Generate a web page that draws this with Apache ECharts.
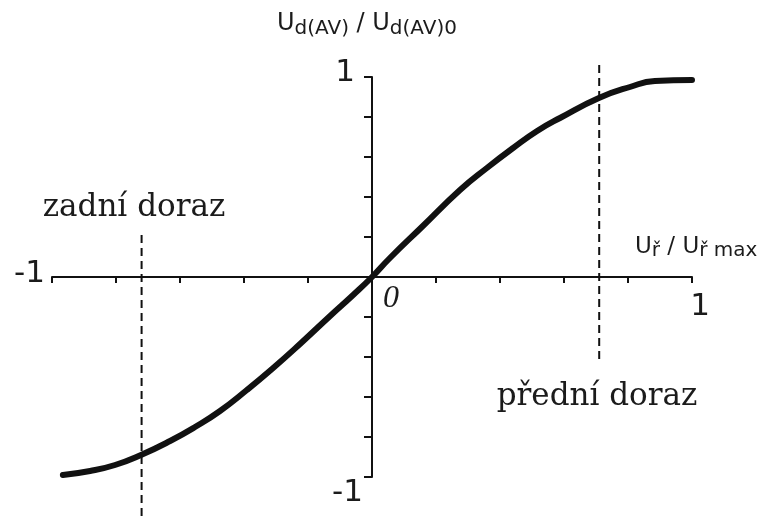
<!DOCTYPE html>
<html>
<head>
<meta charset="utf-8">
<script src="https://cdn.jsdelivr.net/npm/echarts@6/dist/echarts.min.js"></script>
<style>
  html, body { margin: 0; padding: 0; background: #ffffff; }
  #chart { width: 766px; height: 519px; }
</style>
</head>
<body>
<div id="chart"></div>
<script>
// Control characteristic of the converter: Ud(AV)/Ud(AV)0 against Uř/Uř max
const controlRatio = [-0.966, -0.881, -0.803, -0.722, -0.631, -0.553, -0.475, -0.391, -0.3125, -0.225,
  -0.131, -0.059, 0, 0.056, 0.159, 0.275, 0.359, 0.441, 0.516, 0.5875, 0.709, 0.806, 0.884, 1.0];
const outputRatio = [-0.99, -0.97, -0.94, -0.89, -0.82, -0.75, -0.67, -0.565, -0.46, -0.335,
  -0.195, -0.09, 0, 0.095, 0.255, 0.435, 0.545, 0.645, 0.73, 0.795, 0.895, 0.95, 0.98, 0.985];

// End stops on the control axis and the vertical extent of their dashed markers
const rearStopX = -0.72;
const rearStopSpan = [0.21, -1.21];
const frontStopX = 0.71;
const frontStopSpan = [1.06, -0.43];

// Axis end labels
const xMinLabel = '-1';
const xMaxLabel = '1';
const yMinLabel = '-1';
const yMaxLabel = '1';
const originLabel = '0';

const rearStopText = 'zadní doraz';
const frontStopText = 'přední doraz';

const ink = '#111111';
const textInk = '#1b1b1b';

const chart = echarts.init(document.getElementById('chart'), null, { renderer: 'canvas' });

const curve = controlRatio.map((x, i) => [x, outputRatio[i]]);
const stopLine = (x, span) => span.map(y => [x, y]);

chart.setOption({
  animation: false,
  backgroundColor: '#ffffff',
  grid: { left: 52, width: 640, top: 77, height: 400, containLabel: false },
  xAxis: {
    type: 'value', min: -1, max: 1, interval: 0.2,
    axisLine: { onZero: true, lineStyle: { color: ink, width: 2 } },
    axisTick: { show: true, length: 6, lineStyle: { color: ink, width: 2 } },
    axisLabel: { show: false },
    splitLine: { show: false }
  },
  yAxis: {
    type: 'value', min: -1, max: 1, interval: 0.2,
    axisLine: { onZero: true, lineStyle: { color: ink, width: 2 } },
    axisTick: { show: true, length: 8, lineStyle: { color: ink, width: 2 } },
    axisLabel: { show: false },
    splitLine: { show: false }
  },
  series: [
    {
      type: 'line', data: curve, smooth: 0.5, symbol: 'none', clip: false,
      lineStyle: { color: ink, width: 6, cap: 'round', join: 'round' }, z: 5
    },
    {
      type: 'line', data: stopLine(rearStopX, rearStopSpan), symbol: 'none', clip: false,
      lineStyle: { color: ink, width: 2, type: [8, 5] }
    },
    {
      type: 'line', data: stopLine(frontStopX, frontStopSpan), symbol: 'none', clip: false,
      lineStyle: { color: ink, width: 2, type: [8, 5] }
    }
  ]
});

const px = (x, y) => chart.convertToPixel({ gridIndex: 0 }, [x, y]);
const pLeft = px(-1, 0), pRight = px(1, 0), pTop = px(0, 1), pBottom = px(0, -1), pO = px(0, 0);

const numFont = '31px "DejaVu Sans"';
const numText = (text, x, y, align) => ({
  type: 'text', z: 10,
  style: { text, x, y, align, verticalAlign: 'middle', font: numFont, fill: textInk }
});

chart.setOption({
  graphic: [
    numText(xMinLabel, pLeft[0] - 7, pLeft[1] - 3, 'right'),
    numText(xMaxLabel, pRight[0] + 8, pRight[1] + 30, 'center'),
    numText(yMaxLabel, pTop[0] - 27, pTop[1] - 4, 'center'),
    numText(yMinLabel, pBottom[0] - 9, pBottom[1] + 16, 'right'),
    {
      type: 'text', z: 10,
      style: { text: originLabel, x: pO[0] + 19, y: pO[1] + 22, align: 'center', verticalAlign: 'middle',
        font: 'italic 32px "Liberation Serif"', fill: textInk }
    },
    {
      type: 'text', z: 10,
      style: { text: rearStopText, x: 134, y: 208, align: 'center', verticalAlign: 'middle',
        font: '31px "DejaVu Serif"', fill: textInk }
    },
    {
      type: 'text', z: 10,
      style: { text: frontStopText, x: 597, y: 397, align: 'center', verticalAlign: 'middle',
        font: '31px "DejaVu Serif"', fill: textInk }
    },
    {
      type: 'text', z: 10,
      style: {
        text: '{u|U}{s|d(AV)}{u| / U}{s|d(AV)0}',
        x: 277, y: 9, align: 'left', verticalAlign: 'top',
        rich: {
          u: { font: '24px "DejaVu Sans"', fill: textInk, lineHeight: 30, verticalAlign: 'middle' },
          s: { font: '20px "DejaVu Sans"', fill: textInk, lineHeight: 20, verticalAlign: 'bottom' }
        }
      }
    },
    {
      type: 'text', z: 10,
      style: {
        text: '{u|U}{s|ř}{u| / U}{s|ř max}',
        x: 635, y: 233, align: 'left', verticalAlign: 'top',
        rich: {
          u: { font: '23px "DejaVu Sans"', fill: textInk, lineHeight: 28, verticalAlign: 'middle' },
          s: { font: '20px "DejaVu Sans"', fill: textInk, lineHeight: 19, verticalAlign: 'bottom' }
        }
      }
    }
  ]
});
</script>
</body>
</html>
